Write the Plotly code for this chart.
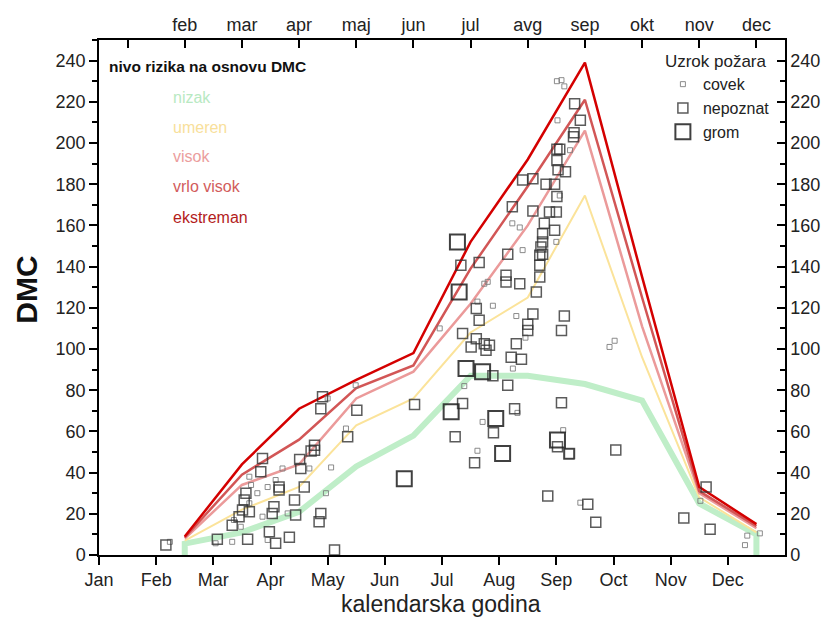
import plotly.graph_objects as go

# ---- risk-level lines (mid-month positions, Feb..Dec) ----
mid_months = [1.5, 2.5, 3.5, 4.5, 5.5, 6.5, 7.5, 8.5, 9.5, 10.5, 11.5]
nizak_x = [1.5] + mid_months + [11.5]
nizak_y = [0, 5.5, 11, 21, 43, 58, 87, 87, 83, 75, 25, 10, 0]
umeren_y = [7, 22, 33, 63, 76, 108, 125, 174.5, 96, 28, 11]
visok_y = [8, 34, 44, 76, 89, 122, 160, 206, 111, 30, 13]
vrlo_visok_y = [8.5, 39, 56, 81, 92, 139, 179, 221, 125, 31, 14]
ekstreman_y = [9, 44, 71, 85, 98, 152, 192, 239, 135, 33, 15]

# ---- fires by cause (x in months from Jan 1, y = DMC) ----
covek_x = [1.24, 2.04, 2.33, 2.36, 2.48, 2.63, 2.66, 2.77, 2.86, 2.95, 2.95, 3.09, 3.21, 3.30, 3.68,
           3.97, 4.00, 4.06, 4.32, 4.49, 2.63, 5.96, 6.62, 6.74, 6.80, 6.89, 7.30, 7.46, 7.24, 6.39,
           7.32, 6.71, 8.12, 6.62, 8.93, 9.02, 7.23, 7.36, 7.41, 8.01, 8.09, 8.14, 8.02, 8.24, 8.06,
           8.00, 8.42, 10.52, 11.34, 11.56, 11.30]
covek_y = [6.4, 5.7, 6.4, 17, 13.7, 25.1, 34, 30, 18.6, 33, 7.3, 36.4, 42, 20.2, 42,
           30, 76, 42.5, 61.4, 82.4, 38, 110, 123, 131.7, 132.6, 121, 116, 105.5, 90.5, 82,
           69, 64.6, 60.6, 50.6, 101, 104, 161, 159, 148, 230, 230.5, 227.5, 211, 196.5, 174.5,
           152, 25.4, 26.3, 9.4, 10.5, 4.8]

nepoznat_x = [1.17, 2.07, 2.60, 2.33, 2.45, 2.51, 2.63, 2.54, 2.57, 2.83, 2.86, 2.98, 3.09, 3.33,
              3.06, 3.03, 3.15, 3.15, 3.42, 3.44, 3.59, 3.51, 3.53, 3.77, 3.77, 3.71, 3.88, 3.85,
              3.91, 3.88, 4.35, 4.51, 4.12, 5.52, 6.33, 6.65, 7.12, 7.36, 7.12, 7.71, 7.71, 7.71,
              7.65, 6.60, 6.65, 6.36, 6.60, 6.51, 6.77, 6.83, 6.74, 7.59, 7.50, 7.50, 7.30, 7.21,
              7.39, 8.14, 8.09, 6.89, 7.15, 6.36, 7.27, 8.09, 6.23, 6.90, 8.23, 6.57, 9.04, 8.02,
              8.22, 7.85, 8.55, 8.69, 10.23, 10.62, 10.69, 8.32, 8.42, 8.31, 8.30, 8.01, 8.06,
              8.01, 8.16, 8.03, 7.97, 7.82, 7.41, 7.59, 8.01, 8.00, 7.88, 7.23, 7.59, 7.79, 7.97,
              7.76, 7.76, 7.73, 7.76, 7.15]
nepoznat_y = [4.8, 7.6, 7.6, 14.5, 18.6, 21.8, 21, 26.7, 30, 40.4, 46.9, 11.3, 5.7, 8.6,
              23.4, 20.2, 33, 31.5, 26.7, 19.4, 33, 46.4, 42, 53.3, 50.9, 50.5, 20.2, 16.1,
              76.8, 71, 57.4, 70.3, 2.4, 73, 140.6, 142, 135.8, 131.7, 132.5, 145.5, 140.6, 135,
              127.7, 119.6, 114, 107.5, 105, 101, 99.4, 101.8, 102.6, 117, 112, 109, 102.6, 96,
              95, 116, 109, 87, 82.4, 73.5, 71, 73.9, 57.4, 59.3, 49.3, 44.8, 51, 52.5,
              49, 28.6, 24.6, 15.9, 18, 33, 12.5, 219, 211, 205, 203, 197, 197,
              191.5, 186, 187, 180, 180, 182, 182.6, 174, 166.5, 166.5, 169, 167, 161, 157.6,
              156, 152, 149.5, 146, 146]

grom_x = [5.34, 6.27, 6.30, 6.42, 6.71, 6.16, 6.94, 7.06, 8.02]
grom_y = [37, 152, 127.7, 90.5, 89, 69.5, 66.3, 49.3, 55.8]

# ---- axes labels ----
bottom_tickvals = list(range(12))
bottom_ticktext = ["Jan", "Feb", "Mar", "Apr", "May", "Jun", "Jul", "Aug", "Sep", "Oct", "Nov", "Dec"]
top_tickvals = [m + 0.5 for m in range(12)]
top_ticktext = ["", "feb", "mar", "apr", "maj", "jun", "jul", "avg", "sep", "okt", "nov", "dec"]
y_tickvals = list(range(0, 241, 20))

risk_names = ["nizak", "umeren", "visok", "vrlo visok", "ekstreman"]
risk_line_colors = ["#bfeec8", "#fbe39a", "#eb9a9a", "#d25656", "#d40000"]
risk_text_colors = ["#b8e9c2", "#f8e09a", "#eb9d9d", "#d25c5c", "#b31c1c"]
risk_widths = [6, 2, 2.5, 2.5, 2.5]

FONT = "Liberation Sans, Arial, sans-serif"

fig = go.Figure()

series = [(nizak_x, nizak_y), (mid_months, umeren_y), (mid_months, visok_y),
          (mid_months, vrlo_visok_y), (mid_months, ekstreman_y)]
for (xs, ys), name, col, w in zip(series, risk_names, risk_line_colors, risk_widths):
    fig.add_trace(go.Scatter(x=xs, y=ys, mode="lines", name=name, showlegend=False,
                             line=dict(color=col, width=w)))

fig.add_trace(go.Scatter(x=covek_x, y=covek_y, mode="markers", name="covek",
                         marker=dict(symbol="square-open", size=5, color="rgba(120,120,120,0.85)",
                                     line=dict(width=1))))
fig.add_trace(go.Scatter(x=nepoznat_x, y=nepoznat_y, mode="markers", name="nepoznat",
                         marker=dict(symbol="square-open", size=10, color="rgba(50,50,50,0.8)",
                                     line=dict(width=1.5))))
fig.add_trace(go.Scatter(x=grom_x, y=grom_y, mode="markers", name="grom",
                         marker=dict(symbol="square-open", size=15, color="rgba(30,30,30,0.85)",
                                     line=dict(width=2))))

# invisible trace to carry the top/right axes
fig.add_trace(go.Scatter(x=[0], y=[0], xaxis="x2", yaxis="y2", mode="markers",
                         marker=dict(opacity=0), showlegend=False, hoverinfo="skip"))

axis_common = dict(showline=True, linecolor="black", linewidth=1.5, showgrid=False,
                   zeroline=False, tickcolor="black", tickwidth=1.5,
                   tickfont=dict(family=FONT, size=18, color="#222"))

fig.update_layout(
    width=833, height=621,
    margin=dict(l=99, r=48, t=40, b=66),
    plot_bgcolor="white", paper_bgcolor="white",
    font=dict(family=FONT, color="#222"),
    xaxis=dict(range=[0, 12], tickmode="array", tickvals=bottom_tickvals, ticktext=bottom_ticktext,
               ticks="outside", ticklen=8, **axis_common),
    xaxis2=dict(range=[0, 12], overlaying="x", side="top", tickmode="array",
                tickvals=top_tickvals, ticktext=top_ticktext, ticks="inside", ticklen=8,
                **axis_common),
    yaxis=dict(range=[0, 250], tickmode="array", tickvals=y_tickvals, ticks="outside", ticklen=8,
               minor=dict(dtick=10, ticks="outside", ticklen=5, tickcolor="black", tickwidth=1.5),
               **axis_common),
    yaxis2=dict(range=[0, 250], overlaying="y", side="right", anchor="x2", tickmode="array",
                tickvals=y_tickvals, ticks="inside", ticklen=8,
                minor=dict(dtick=10, ticks="inside", ticklen=5, tickcolor="black", tickwidth=1.5),
                **axis_common),
    legend=dict(title=dict(text="Uzrok požara", font=dict(family=FONT, size=17, color="#222")),
                x=0.822, y=0.99, xanchor="left", yanchor="top", bgcolor="rgba(0,0,0,0)",
                font=dict(family=FONT, size=16, color="#222"), itemsizing="trace",
                tracegroupgap=0),
)

# axis titles
fig.add_annotation(text="<b>DMC</b>", xref="paper", yref="paper", x=-0.105, y=0.515,
                   textangle=-90, showarrow=False, xanchor="center", yanchor="middle",
                   font=dict(family=FONT, size=30, color="#111"))
fig.add_annotation(text="kalendarska godina", xref="paper", yref="paper", x=0.498, y=-0.095,
                   showarrow=False, xanchor="center", yanchor="middle",
                   font=dict(family=FONT, size=23, color="#222"))

# risk-level legend (text only)
fig.add_annotation(text="<b>nivo rizika na osnovu DMC</b>", xref="paper", yref="paper",
                   x=0.011, y=0.949, showarrow=False, xanchor="left", yanchor="middle",
                   font=dict(family=FONT, size=15.5, color="#111"))
legend_y = [0.889, 0.831, 0.773, 0.715, 0.656]
for name, col, yy in zip(risk_names, risk_text_colors, legend_y):
    fig.add_annotation(text=name, xref="paper", yref="paper", x=0.105, y=yy, showarrow=False,
                       xanchor="left", yanchor="middle", font=dict(family=FONT, size=16, color=col))

fig.write_html("out.html")
